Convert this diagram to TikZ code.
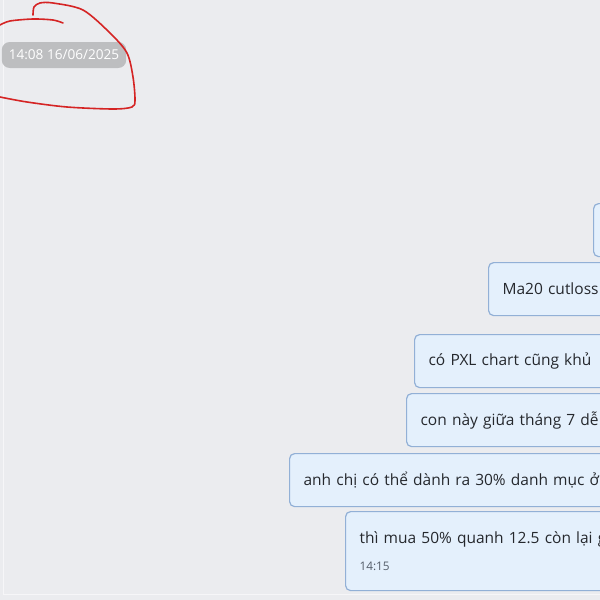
\documentclass[tikz,border=0pt]{standalone}
\usepackage{fontspec}
\setmainfont{Open Sans}
\usetikzlibrary{positioning}
\definecolor{chatbg}{HTML}{EBECEF}
\definecolor{bubblefill}{HTML}{E4F0FC}
\definecolor{bubbleline}{HTML}{92B0D6}
\definecolor{msgtext}{HTML}{25282D}
\definecolor{timegray}{HTML}{555E6A}
\definecolor{stampgray}{HTML}{BDBEC0}
\definecolor{penred}{HTML}{D52424}
\tikzset{
  bubble/.style={draw=bubbleline, fill=bubblefill, line width=1.2pt,
    rounded corners=5pt, anchor=north west, minimum height=53pt,
    text width=400pt, align=left, inner xsep=14pt, text=msgtext,
    font=\fontsize{15.5}{20}\selectfont},
  stamp/.style={fill=stampgray, text=white, rounded corners=8pt,
    minimum height=26pt, inner xsep=7pt, font=\fontsize{13.6}{15}\selectfont},
  redpen/.style={draw=penred, line width=1.6pt, line cap=round, line join=round},
}
\begin{document}
\begin{tikzpicture}[x=1pt, y=-1pt]
  \useasboundingbox (0,0) rectangle (600,600);
  \clip (0,0) rectangle (600,600);
  \fill[chatbg] (0,0) rectangle (600,600);
  \draw[white!55!chatbg, line width=1pt] (3,0) -- (3,594) -- (600,594);
  % date stamp at the top
  \node[stamp] (stamp) at (64,55) {14:08 16/06/2025};
  % messages on the right
  \foreach \x/\y/\n/\t in {593/203/1/{},488/262/2/{Ma20 cutloss},
      414/334/3/{có PXL chart cũng khủ},406/393/4/{con này giữa tháng 7 dễ},
      289/453/5/{anh chị có thể dành ra 30\% danh mục ở}}{%
    \node[bubble] (b\n) at (\x,\y) {\t};
  }
  \node[bubble, minimum height=79pt] (b6) at (345,511)
    {thì mua 50\% quanh 12.5 còn lại g\\[7pt]{\fontsize{11.8}{13}\selectfont\color{timegray}14:15}};
  % red circle drawn by hand round the stamp
  \draw[redpen] plot[smooth] coordinates {(0,25) (10,21) (33,19) (53,20) (63,23)};
  \draw[redpen] plot[smooth] coordinates {(33,15) (34,7) (40,3) (53,3) (83,10)
    (110,33) (127,53) (133,77) (135,100) (132,107) (113,109) (67,107) (27,102) (0,97)};
\end{tikzpicture}
\end{document}
